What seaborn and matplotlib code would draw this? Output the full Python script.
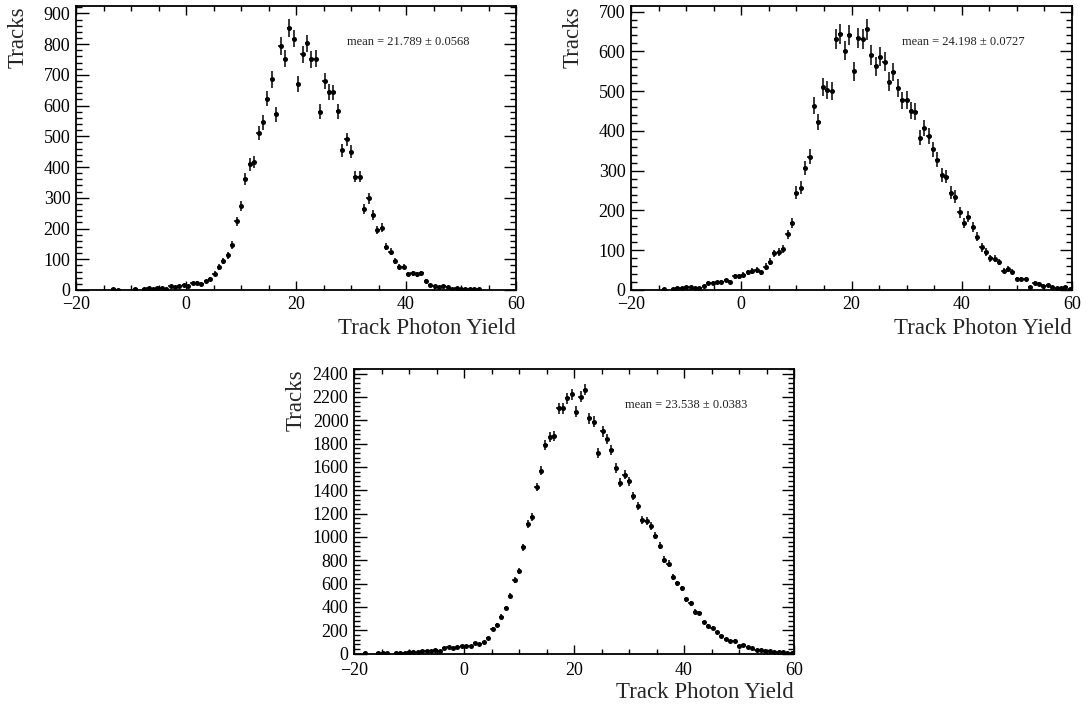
import numpy as np
import matplotlib
matplotlib.use("Agg")
import matplotlib.pyplot as plt
import seaborn as sns
from matplotlib.ticker import MultipleLocator

# Histogram binning (from -20 to 60, 100 bins)
x_min, x_max, n_bins = -20.0, 60.0, 100

# Panel 1: counts per bin starting at bin index 8
p1_first = 8
p1_counts = [2, 1, 0, 0, 0, 2, 0, 2, 5, 4, 8, 8, 4, 14, 11, 13, 17, 13, 22, 24,
             20, 28, 35, 53, 75, 93, 113, 146, 223, 273, 362, 409, 416, 512, 545,
             622, 685, 571, 794, 753, 851, 818, 670, 767, 802, 750, 753, 580, 681,
             645, 643, 582, 455, 490, 450, 369, 369, 262, 298, 244, 195, 203, 141,
             125, 95, 76, 76, 52, 54, 51, 54, 29, 16, 13, 11, 14, 11, 4, 8, 4, 4,
             4, 2, 2]
p1_mean = "mean = 21.789 \u00b1 0.0568"

# Panel 2: counts per bin starting at bin index 7
p2_first = 7
p2_counts = [2, 0, 3, 5, 5, 7, 8, 5, 5, 10, 18, 18, 19, 21, 24, 21, 34, 34, 38, 44,
             48, 50, 44, 59, 71, 92, 95, 102, 140, 168, 245, 257, 306, 335, 463,
             423, 511, 503, 501, 630, 643, 602, 641, 550, 634, 632, 655, 591, 562,
             587, 574, 524, 548, 507, 477, 478, 451, 448, 383, 408, 387, 354, 328,
             289, 285, 245, 235, 195, 169, 184, 159, 134, 107, 95, 80, 78, 70, 49,
             52, 46, 27, 28, 28, 8, 18, 15, 11, 12, 8, 5, 5, 7, 3]
p2_mean = "mean = 24.198 \u00b1 0.0727"

# Panel 3: counts per bin starting at bin index 2
p3_first = 2
p3_counts = [3, 0, 0, 3, 3, 3, 0, 2, 6, 6, 11, 14, 17, 20, 25, 25, 34, 20, 45, 57,
             45, 59, 62, 62, 68, 91, 82, 99, 130, 210, 246, 317, 391, 496, 629, 705,
             912, 1110, 1167, 1428, 1569, 1785, 1857, 1862, 2102, 2102, 2187, 2224,
             2074, 2201, 2264, 2017, 1989, 1720, 1904, 1841, 1748, 1592, 1465, 1535,
             1479, 1351, 1266, 1145, 1139, 1091, 1011, 926, 805, 771, 657, 601, 558,
             467, 431, 360, 346, 266, 238, 218, 181, 147, 125, 105, 110, 62, 71, 54,
             45, 34, 31, 25, 23, 17, 14, 11, 8, 6]
p3_mean = "mean = 23.538 \u00b1 0.0383"

x_label = "Track Photon Yield"
y_label = "Tracks"

sns.set_theme(style="ticks")
plt.rcParams['font.family'] = ['Liberation Serif', 'DejaVu Serif']

fig = plt.figure(figsize=(10.89, 7.08), dpi=100)

edges = np.linspace(x_min, x_max, n_bins + 1)
centers = 0.5 * (edges[:-1] + edges[1:])
half_w = 0.5 * (edges[1] - edges[0])

panels = [
    dict(rect=[76 / 1089, 1 - 290 / 708, 440 / 1089, 284 / 708], first=p1_first,
         counts=p1_counts, mean=p1_mean, ymax=924, major=100, minor=20, xpad=4.5),
    dict(rect=[631 / 1089, 1 - 290 / 708, 441 / 1089, 284 / 708], first=p2_first,
         counts=p2_counts, mean=p2_mean, ymax=714, major=100, minor=20, xpad=4.5),
    dict(rect=[354 / 1089, 1 - 653.5 / 708, 440 / 1089, 284.5 / 708], first=p3_first,
         counts=p3_counts, mean=p3_mean, ymax=2440, major=200, minor=40, xpad=6.0),
]

for p in panels:
    ax = fig.add_axes(p["rect"])
    counts = np.asarray(p["counts"], dtype=float)
    idx = p["first"] + np.arange(len(counts))
    mask = counts > 0
    x = centers[idx][mask]
    y = counts[mask]
    ax.errorbar(x, y, xerr=half_w, yerr=np.sqrt(y), fmt='none', ecolor='black',
                elinewidth=1.1, capsize=0, zorder=2)
    sns.scatterplot(x=x, y=y, ax=ax, color='black', s=13, marker='o',
                    linewidth=0, zorder=3)
    ax.set_xlim(x_min, x_max)
    ax.set_ylim(0, p["ymax"])
    ax.xaxis.set_major_locator(MultipleLocator(20))
    ax.xaxis.set_minor_locator(MultipleLocator(5))
    ax.yaxis.set_major_locator(MultipleLocator(p["major"]))
    ax.yaxis.set_minor_locator(MultipleLocator(p["minor"]))
    ax.tick_params(which='both', direction='in', top=True, right=True,
                   colors='black', labelsize=13, width=1.0)
    ax.tick_params(axis='x', which='major', length=6.5, pad=p["xpad"])
    ax.tick_params(axis='x', which='minor', length=3.3)
    ax.tick_params(axis='y', which='major', length=9, pad=4)
    ax.tick_params(axis='y', which='minor', length=4.6)
    for s in ax.spines.values():
        s.set_linewidth(1.3)
        s.set_color('black')
    ax.set_xlabel(x_label, fontsize=16.5, loc='right')
    ax.xaxis.set_label_coords(1.0, -0.10)
    ax.xaxis.label.set_va('top')
    ax.set_ylabel(y_label, fontsize=16.5, loc='top')
    ax.yaxis.set_label_coords(-0.108, 1.0)
    ax.text(0.615, 0.873, p["mean"], transform=ax.transAxes, fontsize=9,
            ha='left', va='center', color='#222222')

fig.savefig("out.png", dpi=100)
